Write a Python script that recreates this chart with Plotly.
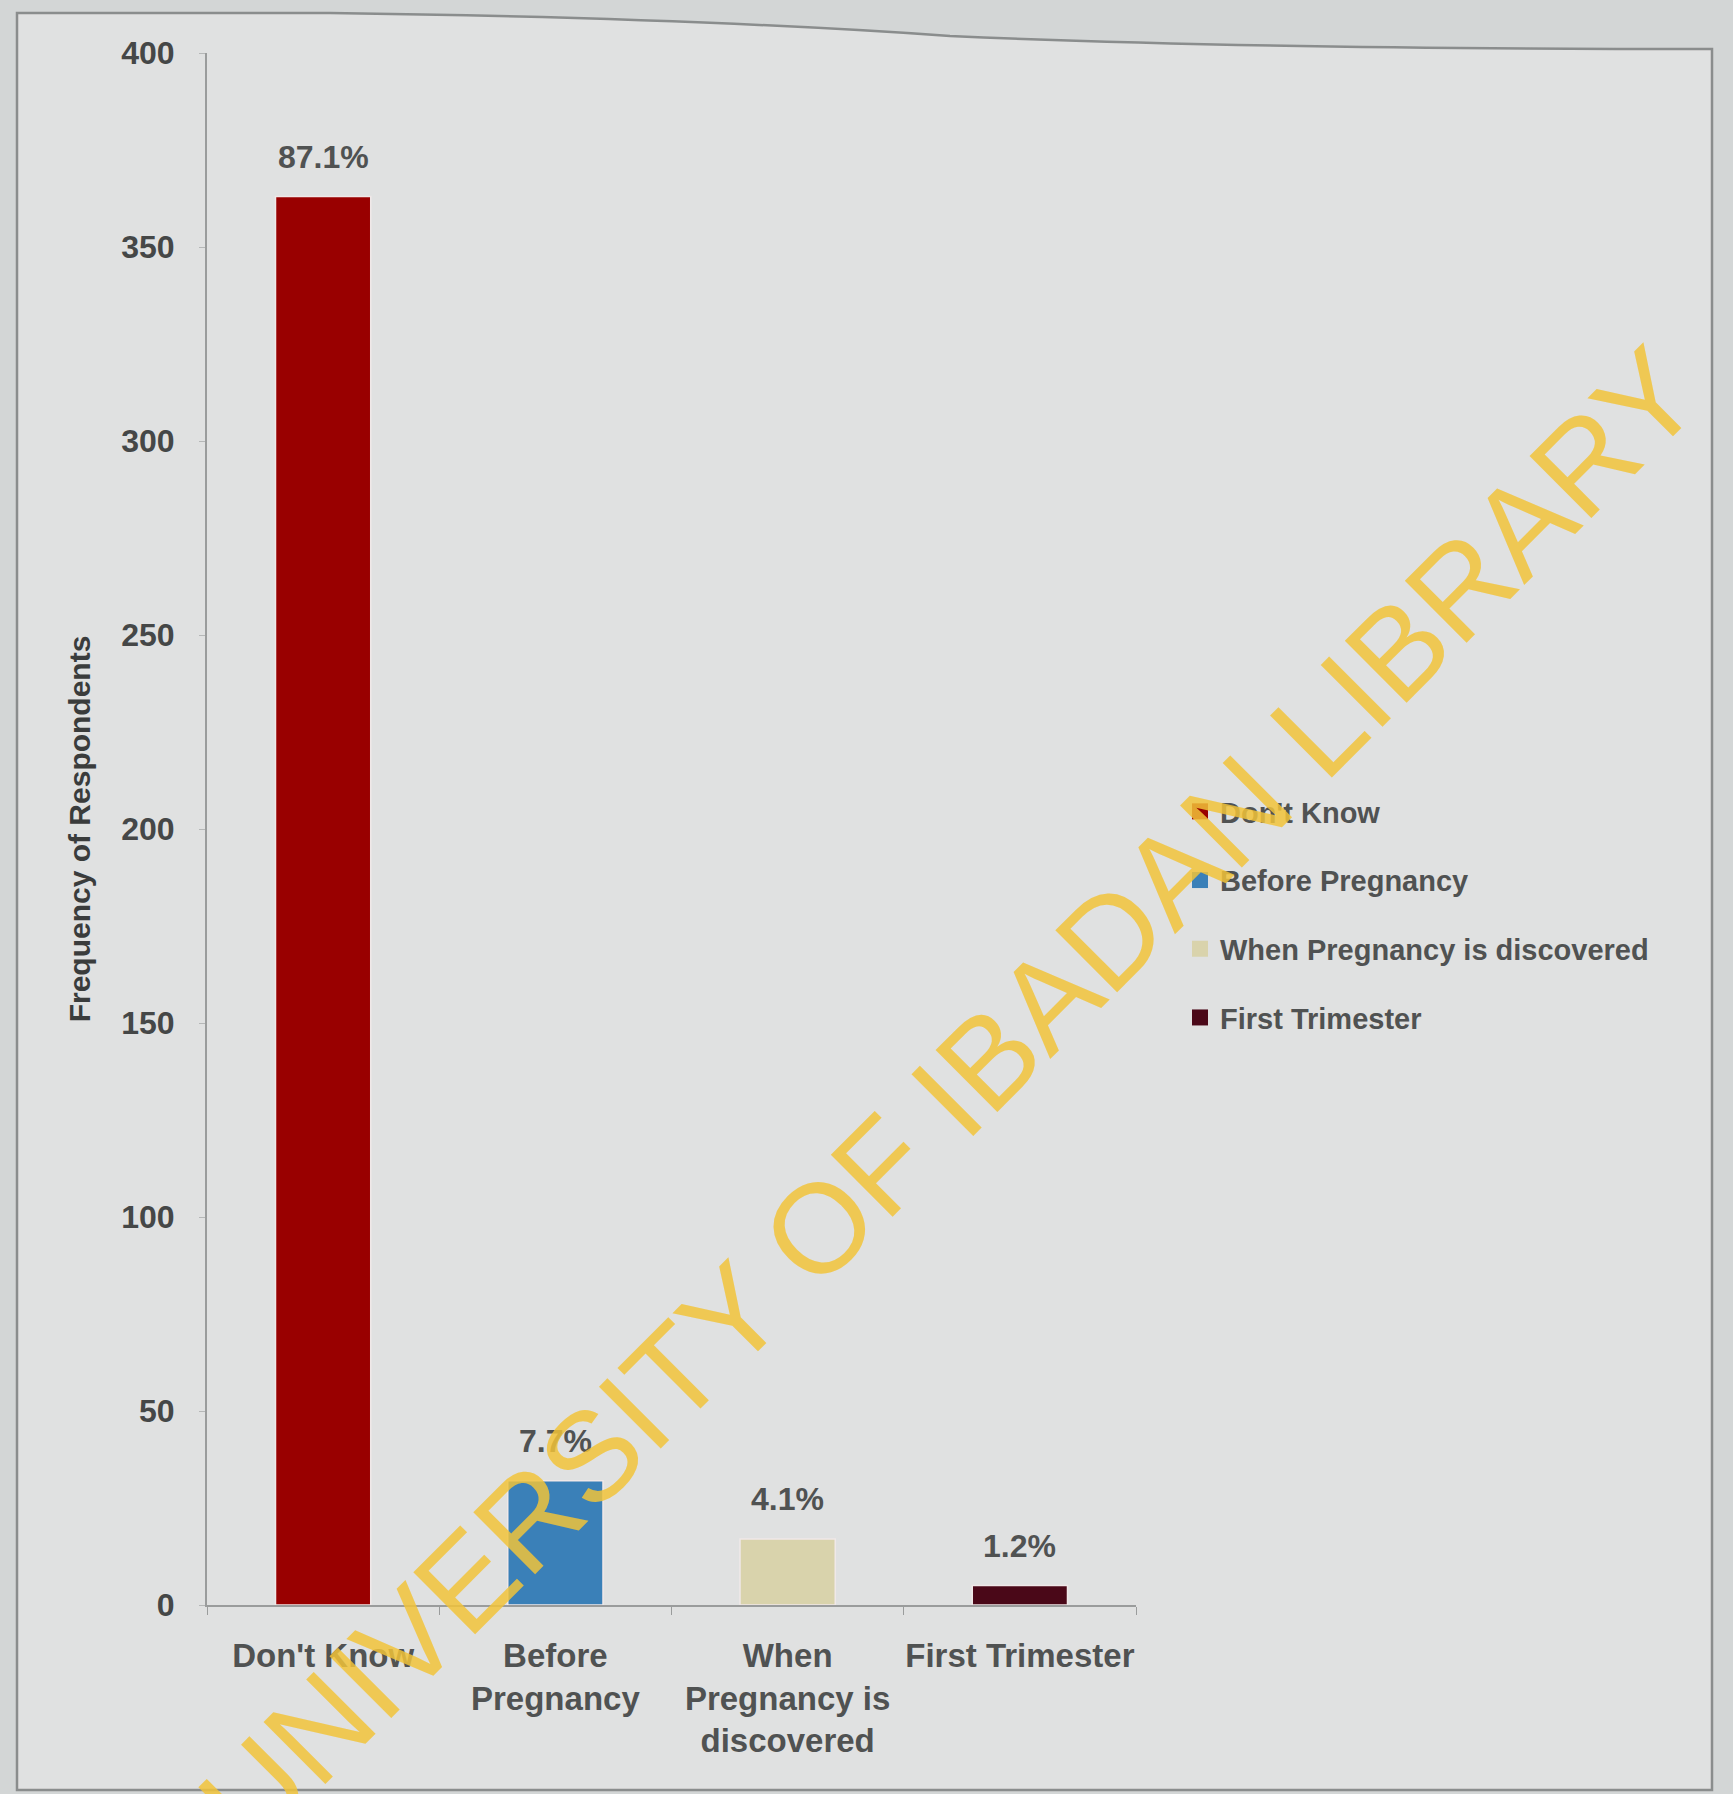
import plotly.graph_objects as go

# ---- data ----
categories = ["Don't Know", "Before Pregnancy", "When Pregnancy is discovered", "First Trimester"]
tick_labels = ["Don't Know", "Before<br>Pregnancy", "When<br>Pregnancy is<br>discovered", "First Trimester"]
frequencies = [363, 32, 17, 5]
percent_labels = ["87.1%", "7.7%", "4.1%", "1.2%"]
colors = ["#990000", "#3a80b8", "#d9d3ac", "#4a0818"]
y_ticks = [0, 50, 100, 150, 200, 250, 300, 350, 400]

W, H = 1733, 1794
L, R, T, B = 207, 1136, 53, 1605  # plot area in pixels

def px(x):
    return (x - L) / (R - L)

def py(y):
    return (B - y) / (B - T)

FONT = "Liberation Sans Narrow, Arial Narrow, Liberation Sans, Arial, sans-serif"
TXT = "#505252"

fig = go.Figure()
for cat, lab, f, c in zip(categories, tick_labels, frequencies, colors):
    fig.add_trace(go.Bar(
        x=[lab], y=[f], name=cat, showlegend=False,
        marker=dict(color=c, line=dict(color="#f0e8e8", width=1.5)),
        width=0.41,
    ))
# legend entries (square swatches)
for cat, lab, c in zip(categories, tick_labels, colors):
    fig.add_trace(go.Scatter(
        x=[lab], y=[None], name=cat, mode="markers", legendgroup=cat,
        marker=dict(symbol="square", size=17, color=c),
    ))

# data labels above bars
for lab, f, p in zip(tick_labels, frequencies, percent_labels):
    fig.add_annotation(x=lab, y=f, text=p, showarrow=False, yanchor="middle",
                       yshift=40,
                       font=dict(family=FONT, size=32, color=TXT, weight="bold"))

# scanned page frame
frame = (f"M {px(17)},{py(13)} L {px(330)},{py(13)} "
         f"Q {px(700)},{py(18)} {px(950)},{py(36)} "
         f"Q {px(1250)},{py(49)} {px(1712)},{py(49)} "
         f"L {px(1712)},{py(1790)} L {px(17)},{py(1790)} Z")
fig.add_shape(type="path", path=frame, xref="paper", yref="paper",
              line=dict(color="#8a8d8d", width=2.5), fillcolor="#e0e1e1", layer="below")

# watermark
fig.add_annotation(text="UNIVERSITY OF IBADAN LIBRARY", xref="paper", yref="paper",
                   x=px(949), y=py(1098), xanchor="center", yanchor="middle",
                   showarrow=False, textangle=-45,
                   font=dict(family="Liberation Sans, Arial, sans-serif", size=127,
                             color="rgba(242,196,56,0.84)"))

fig.update_layout(
    width=W, height=H,
    margin=dict(l=L, r=W - R, t=T, b=H - B, autoexpand=False),
    paper_bgcolor="#d3d6d6", plot_bgcolor="rgba(0,0,0,0)",
    barmode="overlay",
    showlegend=True,
    legend=dict(x=px(1180), y=py(786), xanchor="left", yanchor="top",
                bgcolor="rgba(0,0,0,0)", traceorder="grouped", tracegroupgap=28,
                font=dict(family=FONT, size=29, color=TXT, weight="bold"),
                itemwidth=30),
    xaxis=dict(type="category", range=[-0.5, 3.5], showgrid=False, automargin=False,
               showline=True, linecolor="#9a9c9c", linewidth=2, tickangle=0,
               ticks="outside", tickson="boundaries", ticklen=8, tickcolor="#9a9c9c",
               ticklabelstandoff=20,
               tickfont=dict(family=FONT, size=33, color=TXT, weight="bold")),
    yaxis=dict(range=[0, 400], tickvals=y_ticks, showgrid=False, zeroline=False,
               automargin=False,
               showline=True, linecolor="#9a9c9c", linewidth=2,
               ticks="outside", ticklen=6, tickcolor="#b5b7b7",
               ticklabelstandoff=18,
               tickfont=dict(family=FONT, size=32, color="#454747", weight="bold"),
               title=dict(text="Frequency of Respondents", standoff=22,
                          font=dict(family=FONT, size=30, color="#3a3c3c", weight="bold"))),
)

fig.write_html("out.html")
